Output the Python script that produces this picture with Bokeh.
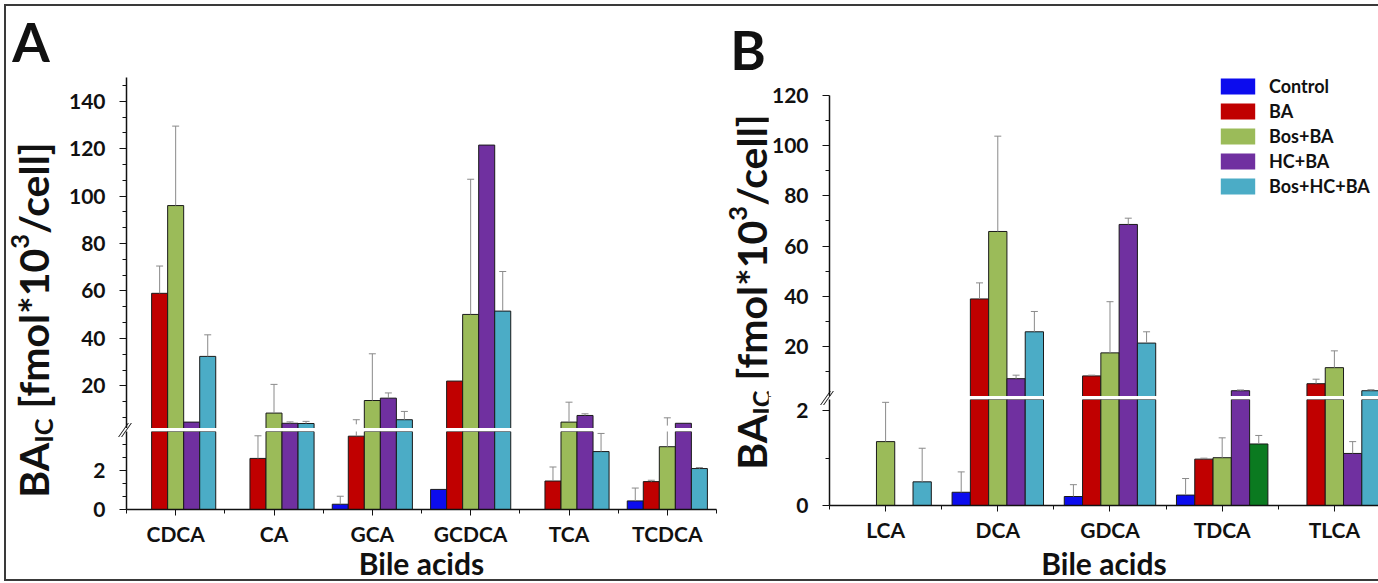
from bokeh.plotting import figure
from bokeh.models import (ColumnDataSource, Range1d, FixedTicker, Div, Legend,
                          LegendItem, CDSView, IndexFilter, InlineStyleSheet)
from bokeh.layouts import row, column
from bokeh.embed import file_html
from bokeh.resources import INLINE

# ---------------- data ----------------
series = ["Control", "BA", "Bos+BA", "HC+BA", "Bos+HC+BA"]
series_colors = ["#0C0CEE", "#C00000", "#9BBB59", "#7030A0", "#4BACC6"]
special_color = "#0B7A20"   # TDCA Bos+HC+BA bar is drawn dark green in the original

cats_A = ["CDCA", "CA", "GCA", "GCDCA", "TCA", "TCDCA"]
control_A = [0, 0, 0.27, 1.03, 0, 0.44]
control_A_err = [0, 0, 0.41, 0, 0, 0.66]
ba_A = [59, 2.62, 3.76, 22, 1.46, 1.43]
ba_A_err = [11.5, 1.16, 1.94, 0, 0.72, 0.07]
bosba_A = [96, 8.5, 13.8, 50.1, 4.7, 3.22]
bosba_A_err = [33.5, 12.1, 19.7, 57, 8.4, 3.28]
hcba_A = [4.7, 4.2, 14.8, 121.5, 7.5, 4.2]
hcba_A_err = [0, 0.6, 2.2, 0, 0.7, 0]
bhcba_A = [32.4, 4.1, 5.7, 51.5, 2.97, 2.1]
bhcba_A_err = [9.1, 0.9, 3.5, 16.7, 0.93, 0.05]

cats_B = ["LCA", "DCA", "GDCA", "TDCA", "TLCA"]
control_B = [0, 0.28, 0.19, 0.22, 0]
control_B_err = [0, 0.43, 0.25, 0.35, 0]
ba_B = [0, 38.9, 8.2, 0.98, 5.1]
ba_B_err = [0, 6.4, 0.3, 0.02, 1.8]
bosba_B = [1.35, 65.8, 17.4, 1.01, 11.5]
bosba_B_err = [0.83, 38, 20.4, 0.42, 6.7]
hcba_B = [0, 7.1, 68.6, 2.3, 1.1]
hcba_B_err = [0, 1.4, 2.5, 0.3, 0.25]
bhcba_B = [0.5, 25.8, 21.3, 1.3, 2.3]
bhcba_B_err = [0.71, 8.1, 4.5, 0.18, 0.4]

FONT = "Lato"
BW = 0.163
H = 583
INK = "#111111"


def series_sources(cats, vals, errs, lower_max, special=None):
    """one source per series (bars), plus combined error-bar sources"""
    bar_srcs, up_idx = [], []
    er = dict(x=[], y0=[], y1=[])
    eu = dict(x=[], y0=[], y1=[])
    for j, (vs, es) in enumerate(zip(vals, errs)):
        d = dict(x=[], top=[], color=[])
        idx = []
        for i, (v, e) in enumerate(zip(vs, es)):
            if v <= 0:
                continue
            x = i + (j - 2) * BW
            c = series_colors[j]
            if special and special == (cats[i], series[j]):
                c = special_color
            if v > lower_max:
                idx.append(len(d["x"]))
            d["x"].append(x); d["top"].append(v); d["color"].append(c)
            if e > 0:
                er["x"].append(x); er["y0"].append(v); er["y1"].append(v + e)
                if v + e > lower_max:
                    eu["x"].append(x); eu["y0"].append(v); eu["y1"].append(v + e)
        bar_srcs.append(ColumnDataSource(d))
        up_idx.append(idx)
    return bar_srcs, up_idx, ColumnDataSource(er), ColumnDataSource(eu)


def draw(p, bar_srcs, err_src, idx_lists=None):
    for j, src in enumerate(bar_srcs):
        kw = {}
        if idx_lists is not None:
            kw["view"] = CDSView(filter=IndexFilter(indices=idx_lists[j]))
        p.vbar(x="x", top="top", bottom=0, width=BW, source=src,
               fill_color="color", line_color="#1a1a1a", line_width=1, **kw)
    p.segment(x0="x", y0="y0", x1="x", y1="y1", source=err_src,
              line_color="#8a8a8a", line_width=1)
    p.scatter(x="x", y="y1", source=err_src, marker="dash", size=7,
              line_color="#8a8a8a", line_width=1)


def make_fig(w, h, xr, yr, ml, mr, mt, mb, with_x):
    p = figure(width=w, height=h, x_range=xr, y_range=yr, title=None,
               output_backend="svg", toolbar_location=None,
               x_axis_location="below" if with_x else None,
               min_border_left=ml, min_border_right=mr,
               min_border_top=mt, min_border_bottom=mb)
    p.grid.visible = False
    p.outline_line_color = None
    p.background_fill_color = "white"
    p.border_fill_color = "white"
    return p


def style_yaxis(p, ticks, minor, bounds="auto"):
    p.yaxis.ticker = FixedTicker(ticks=ticks, minor_ticks=minor)
    ax = p.yaxis[0]
    ax.bounds = bounds
    ax.axis_line_width = 1.5
    ax.axis_line_color = INK
    ax.major_tick_out = 7
    ax.major_tick_in = 0
    ax.minor_tick_out = 4
    ax.minor_tick_in = 0
    ax.major_tick_line_color = INK
    ax.minor_tick_line_color = INK
    ax.major_label_standoff = 14
    ax.major_label_text_font = FONT
    ax.major_label_text_font_style = "bold"
    ax.major_label_text_font_size = "21px"
    ax.major_label_text_color = INK


def style_xaxis(p, cats, label_standoff):
    n = len(cats)
    p.xaxis.ticker = FixedTicker(ticks=list(range(n)),
                                 minor_ticks=[i - 0.5 for i in range(n + 1)])
    ax = p.xaxis[0]
    ax.major_label_overrides = {i: c for i, c in enumerate(cats)}
    ax.axis_line_width = 1.5
    ax.axis_line_color = INK
    ax.major_tick_out = 6
    ax.major_tick_in = 0
    ax.minor_tick_out = 4
    ax.minor_tick_in = 0
    ax.major_tick_line_color = INK
    ax.minor_tick_line_color = INK
    ax.major_label_standoff = 5
    ax.major_label_text_font = FONT
    ax.major_label_text_font_style = "bold"
    ax.major_label_text_font_size = "21px"
    ax.major_label_text_color = INK
    ax.axis_label = "Bile acids"
    ax.axis_label_standoff = label_standoff
    ax.axis_label_text_font = FONT
    ax.axis_label_text_font_style = "bold"
    ax.axis_label_text_font_size = "30px"
    ax.axis_label_text_color = INK


# ---------------- panel A ----------------
A_lower_max = 4
barsA, upidxA, errA, errUA = series_sources(
    cats_A, [control_A, ba_A, bosba_A, hcba_A, bhcba_A],
    [control_A_err, ba_A_err, bosba_A_err, hcba_A_err, bhcba_A_err], A_lower_max)
xrA = Range1d(-0.5, len(cats_A) - 0.5)
upA = make_fig(664, 428, xrA, Range1d(2, 150), 62, 12, 77, 0, False)
draw(upA, barsA, errUA, upidxA)
style_yaxis(upA, [20, 40, 60, 80, 100, 120, 140],
            [k * 20 / 3 for k in range(1, 23) if k % 3])
loA = make_fig(664, H - 428, xrA, Range1d(0, A_lower_max), 62, 12, 3, 68, True)
draw(loA, barsA, errA)
style_yaxis(loA, [0, 2], [2 / 3, 4 / 3, 8 / 3, 10 / 3])
style_xaxis(loA, cats_A, -4)

# ---------------- panel B ----------------
B_lower_max = 2.24
barsB, upidxB, errB, errUB = series_sources(
    cats_B, [control_B, ba_B, bosba_B, hcba_B, bhcba_B],
    [control_B_err, ba_B_err, bosba_B_err, hcba_B_err, bhcba_B_err],
    B_lower_max, special=("TDCA", "Bos+HC+BA"))
xrB = Range1d(-0.5, -0.5 + 550 / 112.4)
upB = make_fig(610, 396, xrB, Range1d(0, 321 / 2.508), 60, 0, 75, 0, False)
draw(upB, barsB, errUB, upidxB)
style_yaxis(upB, [20, 40, 60, 80, 100, 120], [10, 30, 50, 70, 90, 110], bounds=(0, 120))
loB = make_fig(610, H - 396, xrB, Range1d(0, B_lower_max), 60, 0, 3, 73, True)
draw(loB, barsB, errB)
style_yaxis(loB, [0, 2], [1])
style_xaxis(loB, cats_B, 0)

# legend swatches: zero-height bars of each series (invisible in the plot)
items = []
for name, src in zip(series, barsB):
    r = upB.vbar(x="x", top="top", bottom="top", width=BW, source=src,
                 fill_color="color", line_color=None)
    items.append(LegendItem(label=name, renderers=[r]))
leg = Legend(items=items, location=(387, 199), padding=0, margin=0,
             border_line_color=None, background_fill_alpha=0,
             glyph_width=43, glyph_height=20, label_height=20, spacing=3,
             label_standoff=10, label_text_font=FONT, label_text_font_style="bold",
             label_text_font_size="18px", label_text_color=INK)
upB.add_layout(leg)


def side_div(width, letter, lx, ly, cx, cy):
    html = (
        f'<div style="position:relative;width:{width}px;height:{H}px;'
        f"font-family:'Lato',sans-serif;font-weight:700;color:{INK};\">"
        f'<div style="position:absolute;left:{lx}px;top:{ly}px;transform:translate(-50%,-50%);'
        f'font-size:54px;line-height:1;">{letter}</div>'
        f'<div style="position:absolute;left:{cx}px;top:{cy}px;'
        f'transform:translate(-50%,-50%) rotate(180deg);writing-mode:vertical-rl;'
        f'white-space:nowrap;font-size:41px;line-height:1;">BA<sub style="font-size:0.62em;">IC</sub>'
        f' [fmol*10<sup style="font-size:0.62em;">3</sup>/cell]</div></div>'
    )
    return Div(text=html, width=width, height=H, margin=0)


def break_mark_css(left, top):
    return InlineStyleSheet(css=(
        ":host::after{content:'';position:absolute;"
        f"left:{left}px;top:{top}px;width:4px;height:14px;"
        f"border-left:1.5px solid {INK};border-right:1.5px solid {INK};"
        "transform:skewX(-35deg);pointer-events:none;z-index:10;}"
    ))


frame_css = InlineStyleSheet(css=(
    ":host::after{content:'';position:absolute;left:4px;top:4px;right:0;bottom:2px;"
    "border-top:2px solid #3a3a3a;border-left:2px solid #3a3a3a;"
    "border-bottom:2px solid #3a3a3a;pointer-events:none;z-index:20;}"
))

divA = side_div(64, "A", 31, 42, 32, 320)
divB = side_div(40, "B", 20, 50, 22, 292)

colA = column(upA, loA, stylesheets=[break_mark_css(58.5, 422.5)])
colB = column(upB, loB, stylesheets=[break_mark_css(56.5, 390.5)])
layout = row(divA, colA, divB, colB, stylesheets=[frame_css])

open("out.html", "w").write(file_html(layout, INLINE))
